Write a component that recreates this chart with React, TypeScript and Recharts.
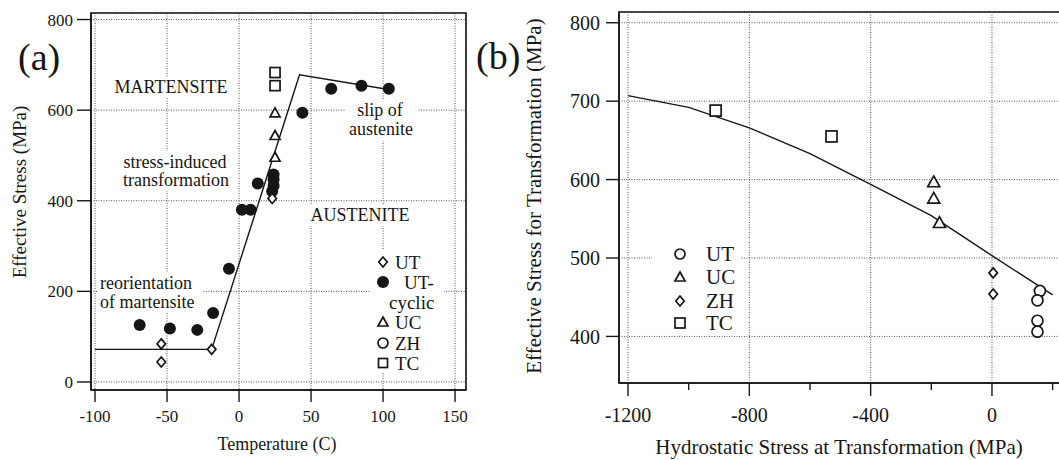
import { ScatterChart, Scatter, XAxis, YAxis, CartesianGrid, ReferenceArea, ReferenceLine } from 'recharts';

const INK = '#161616';
const GRID = '#555';
const SERIF = '"Liberation Serif", "Times New Roman", serif';

// (a) effective stress vs temperature
const tempTicks = [-100, -50, 0, 50, 100, 150];
const stressTicksA = [0, 200, 400, 600, 800];
const aUT = [
  { x: -54, y: 84 }, { x: -54, y: 44 }, { x: -19, y: 72 }, { x: 23, y: 405 },
];
const aUTcyclic = [
  { x: -69, y: 126 }, { x: -48, y: 118 }, { x: -29, y: 115 }, { x: -18, y: 152 },
  { x: -7, y: 250 }, { x: 2, y: 380 }, { x: 8, y: 380 }, { x: 13, y: 438 },
  { x: 24, y: 458 }, { x: 24, y: 447 }, { x: 24, y: 433 }, { x: 23, y: 421 },
  { x: 44, y: 594 }, { x: 64, y: 647 }, { x: 85, y: 654 }, { x: 104, y: 647 },
];
const aUC = [{ x: 25, y: 594 }, { x: 25, y: 544 }, { x: 25, y: 496 }];
const aTC = [{ x: 25, y: 683 }, { x: 25, y: 654 }];
const aFit = [{ x: -100, y: 72 }, { x: -19, y: 72 }, { x: 42, y: 678 }, { x: 105, y: 645 }];

// (b) effective stress vs hydrostatic stress
const hydroTicks = [-1200, -1000, -800, -600, -400, -200, 0, 200];
const hydroGrid = [-1200, -800, -400, 0];
const stressTicksB = [400, 500, 600, 700, 800];
const bUT = [{ x: 158, y: 458 }, { x: 150, y: 446 }, { x: 150, y: 420 }, { x: 150, y: 406 }];
const bUC = [{ x: -192, y: 597 }, { x: -192, y: 576 }, { x: -173, y: 545 }];
const bZH = [{ x: 4, y: 481 }, { x: 4, y: 454 }];
const bTC = [{ x: -911, y: 688 }, { x: -529, y: 655 }];
const bFit = [
  { x: -1200, y: 707 }, { x: -1000, y: 692 }, { x: -800, y: 666 }, { x: -600, y: 633 },
  { x: -400, y: 594 }, { x: -200, y: 554 }, { x: 0, y: 503 }, { x: 200, y: 453 },
];

function Glyph({ kind, cx, cy, r }: { kind: string; cx: number; cy: number; r: number }) {
  const open = { fill: '#fff', stroke: INK, strokeWidth: 1.7 };
  if (kind === 'dot') return <circle cx={cx} cy={cy} r={r} fill={INK} />;
  if (kind === 'circle') return <circle cx={cx} cy={cy} r={r} {...open} />;
  if (kind === 'diamond')
    return <path d={`M${cx},${cy - r}L${cx + r * 0.85},${cy}L${cx},${cy + r}L${cx - r * 0.85},${cy}Z`} {...open} />;
  if (kind === 'triangle')
    return <path d={`M${cx},${cy - r}L${cx + r},${cy + r * 0.8}L${cx - r},${cy + r * 0.8}Z`} {...open} />;
  return <rect x={cx - r} y={cy - r} width={2 * r} height={2 * r} {...open} />;
}

const shape = (kind: string, r: number) => (p: any) => <Glyph kind={kind} cx={p.cx} cy={p.cy} r={r} />;
const noDot = () => <g />;

const HydroTick = ({ x, y, payload }: any) => {
  const major = payload.value % 400 === 0;
  return (
    <g>
      <line x1={x} x2={x} y1={y} y2={y + (major ? 13 : 7)} stroke={INK} strokeWidth={1.4} />
      {major && (
        <text x={x} y={y + 32} textAnchor="middle" dominantBaseline="central" fontSize={20} fill={INK} fontFamily={SERIF}>
          {payload.value}
        </text>
      )}
    </g>
  );
};

const Note = ({ x, y, text, size = 18, anchor = 'middle' }: any) => (
  <text x={x} y={y} textAnchor={anchor} dominantBaseline="central" fontSize={size} fill={INK} fontFamily={SERIF}>
    {text}
  </text>
);

const PanelA = () => (
  <ScatterChart width={480} height={460} margin={{ top: 13, right: 14, bottom: 30, left: 31 }}>
    <CartesianGrid stroke={GRID} strokeDasharray="1 1.5" />
    <XAxis
      type="number" dataKey="x" domain={[-102.8, 157.6]} allowDataOverflow ticks={tempTicks}
      height={40} tickSize={12} tickMargin={8} stroke={INK} strokeWidth={1.4}
      tick={{ fill: INK, fontSize: 17, fontFamily: SERIF }}
    />
    <YAxis
      type="number" dataKey="y" domain={[-17.7, 814.4]} allowDataOverflow ticks={stressTicksA}
      width={60} tickSize={14} tickMargin={4} stroke={INK} strokeWidth={1.4}
      tick={{ fill: INK, fontSize: 17, fontFamily: SERIF }}
    />
    <ReferenceArea x1={-102.8} x2={157.6} y1={-17.7} y2={814.4} fill="none" stroke={INK} strokeWidth={1.6} ifOverflow="visible" />
    <Scatter data={aFit} line={{ stroke: INK, strokeWidth: 1.4 }} shape={noDot} isAnimationActive={false} />
    <Scatter data={aUTcyclic} shape={shape('dot', 6)} isAnimationActive={false} />
    <Scatter data={aUT} shape={shape('diamond', 5)} isAnimationActive={false} />
    <Scatter data={aUC} shape={shape('triangle', 5)} isAnimationActive={false} />
    <Scatter data={aTC} shape={shape('square', 5)} isAnimationActive={false} />
  </ScatterChart>
);

const PanelB = () => (
  <ScatterChart width={620} height={460} margin={{ top: 12, right: 0, bottom: 27, left: 89 }}>
    <CartesianGrid stroke={GRID} strokeDasharray="1 1.5" vertical={false} />
    {hydroGrid.map((v) => (
      <ReferenceLine key={v} x={v} stroke={GRID} strokeDasharray="1 1.5" />
    ))}
    <XAxis
      type="number" dataKey="x" domain={[-1229.7, 323.2]} allowDataOverflow ticks={hydroTicks}
      height={50} tickSize={0} tickMargin={0} tickLine={false} stroke={INK} strokeWidth={1.4}
      tick={<HydroTick />}
    />
    <YAxis
      type="number" dataKey="y" domain={[340.6, 813.7]} allowDataOverflow ticks={stressTicksB}
      width={60} tickSize={13} tickMargin={6} stroke={INK} strokeWidth={1.4}
      tick={{ fill: INK, fontSize: 20, fontFamily: SERIF }}
    />
    <ReferenceArea x1={-1229.7} x2={323.2} y1={340.6} y2={813.7} fill="none" stroke={INK} strokeWidth={1.6} ifOverflow="visible" />
    <Scatter data={bFit} line={{ stroke: INK, strokeWidth: 1.4 }} shape={noDot} isAnimationActive={false} />
    <Scatter data={bTC} shape={shape('square', 5.5)} isAnimationActive={false} />
    <Scatter data={bUC} shape={shape('triangle', 6)} isAnimationActive={false} />
    <Scatter data={bZH} shape={shape('diamond', 5)} isAnimationActive={false} />
    <Scatter data={bUT} shape={shape('circle', 5.5)} isAnimationActive={false} />
  </ScatterChart>
);

const legendA = [
  { kind: 'diamond', label: 'UT', y: 262, r: 5 },
  { kind: 'dot', label: 'UT-', y: 282, r: 6 },
  { kind: 'triangle', label: 'UC', y: 322, r: 5 },
  { kind: 'circle', label: 'ZH', y: 343, r: 5 },
  { kind: 'square', label: 'TC', y: 363, r: 4.5 },
];
const legendB = [
  { kind: 'circle', label: 'UT', y: 254 },
  { kind: 'triangle', label: 'UC', y: 277 },
  { kind: 'diamond', label: 'ZH', y: 301 },
  { kind: 'square', label: 'TC', y: 323 },
];

const Overlay = () => (
  <svg width={1059} height={460} style={{ position: 'absolute', left: 0, top: 0, pointerEvents: 'none' }}>
    <Note x={18} y={57} text="(a)" size={38} anchor="start" />
    <Note x={476} y={56} text="(b)" size={38} anchor="start" />

    <text x={19} y={192} transform="rotate(-90 19 192)" textAnchor="middle" dominantBaseline="central" fontSize={19} fill={INK} fontFamily={SERIF}>
      Effective Stress (MPa)
    </text>
    <Note x={277} y={444} text="Temperature (C)" size={18} />

    <rect x={112} y={77} width={118} height={21} fill="#fff" />
    <Note x={171} y={87} text="MARTENSITE" />
    <rect x={346} y={99} width={72} height={42} fill="#fff" />
    <Note x={380} y={110} text="slip of" />
    <Note x={381} y={129} text="austenite" />
    <rect x={114} y={151} width={124} height={40} fill="#fff" />
    <Note x={175} y={162} text="stress-induced" />
    <Note x={176} y={180} text="transformation" />
    <rect x={308} y={205} width={104} height={21} fill="#fff" />
    <Note x={360} y={215} text="AUSTENITE" />
    <rect x={97} y={272} width={106} height={40} fill="#fff" />
    <Note x={100} y={283} text="reorientation" anchor="start" />
    <Note x={100} y={302} text="of martensite" anchor="start" />

    <rect x={370} y={250} width={74} height={122} fill="#fff" />
    {legendA.map((d) => (
      <g key={d.label}>
        <Glyph kind={d.kind} cx={383} cy={d.y} r={d.r} />
        <Note x={d.label === 'UT-' ? 404 : 395} y={d.y} text={d.label} size={19} anchor="start" />
      </g>
    ))}
    <Note x={389} y={302} text="cyclic" size={19} anchor="start" />

    <text x={534} y={196} transform="rotate(-90 534 196)" textAnchor="middle" dominantBaseline="central" fontSize={21} fill={INK} fontFamily={SERIF}>
      Effective Stress for Transformation (MPa)
    </text>
    <Note x={839} y={447} text="Hydrostatic Stress at Transformation (MPa)" size={21} />

    <rect x={652} y={241} width={88} height={93} fill="#fff" />
    {legendB.map((d) => (
      <g key={d.label}>
        <Glyph kind={d.kind} cx={680} cy={d.y} r={5} />
        <Note x={706} y={d.y} text={d.label} size={21} anchor="start" />
      </g>
    ))}
  </svg>
);

export default function App() {
  return (
    <div style={{ position: 'absolute', left: 0, top: 0, width: 1059, height: 460, overflow: 'hidden', background: '#fff' }}>
      <div style={{ position: 'absolute', left: 0, top: 0 }}>
        <PanelA />
      </div>
      <div style={{ position: 'absolute', left: 470, top: 0 }}>
        <PanelB />
      </div>
      <Overlay />
    </div>
  );
}
